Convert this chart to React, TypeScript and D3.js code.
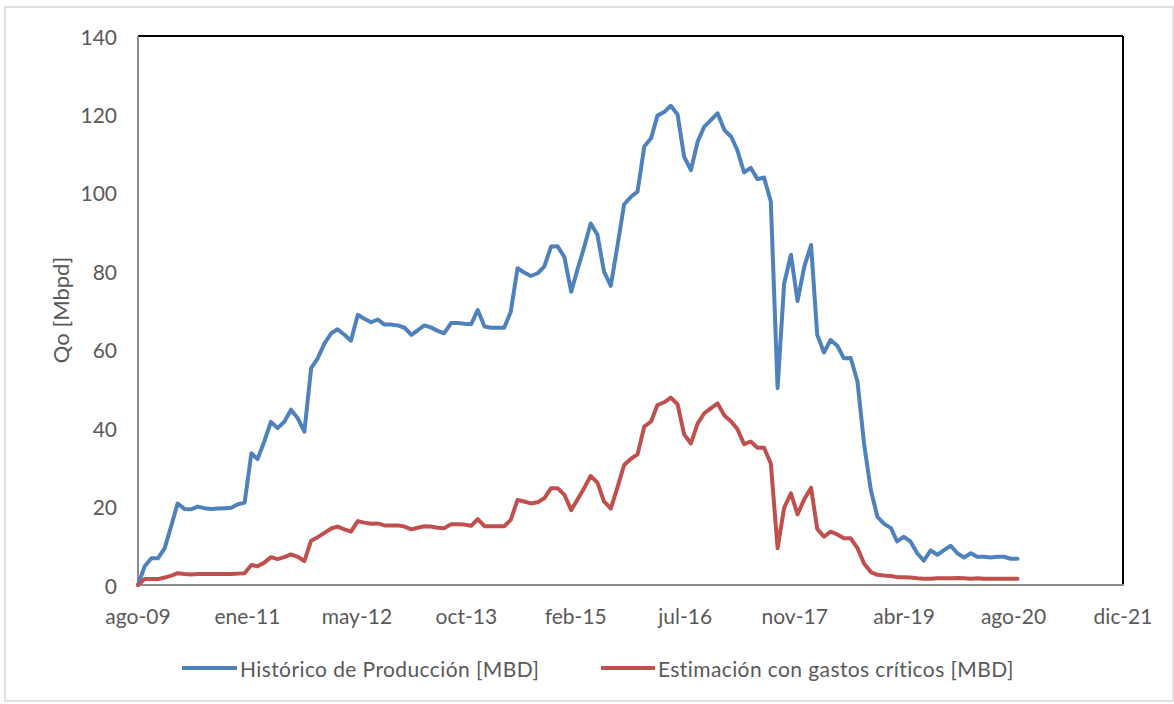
import React from "react";
import * as d3 from "d3";

// monthly values, end of month from ago-09 to ago-20
const historico = [
  0, 4.7, 6.8, 6.8, 9.4, 15.3, 20.8, 19.4, 19.3, 20.0, 19.6, 19.4, 19.5, 19.6,
  19.7, 20.6, 21.0, 33.6, 32.1, 36.6, 41.6, 40.0, 41.6, 44.7, 42.5, 39.1, 55.3,
  57.8, 61.6, 64.2, 65.2, 63.8, 62.3, 68.9, 67.9, 67.0, 67.7, 66.4, 66.4, 66.2,
  65.6, 63.8, 64.9, 66.2, 65.7, 64.8, 64.2, 66.8, 66.8, 66.6, 66.5, 70.1, 65.9,
  65.6, 65.6, 65.6, 69.7, 80.8, 79.7, 78.8, 79.5, 81.2, 86.3, 86.4, 83.6, 74.8,
  80.3, 86.1, 92.2, 89.3, 79.9, 76.3, 86.7, 97.1, 99.0, 100.3, 111.8, 113.9,
  119.7, 120.6, 122.2, 120.0, 109.2, 105.8, 113.1, 116.9, 118.6, 120.3, 116.0,
  114.3, 110.9, 105.2, 106.4, 103.5, 103.9, 97.8, 50.2, 76.9, 84.2, 72.4, 81.2,
  86.7, 63.8, 59.3, 62.5, 61.0, 57.8, 57.9, 51.9, 36.0, 24.2, 17.4, 15.6, 14.5,
  11.1, 12.3, 11.1, 8.1, 6.2, 8.8, 7.7, 8.9, 10.0, 8.1, 7.0, 8.1, 7.2, 7.2, 7.0,
  7.2, 7.2, 6.7, 6.7,
];

const estimacion = [
  0, 1.5, 1.5, 1.5, 1.9, 2.4, 3.0, 2.8, 2.7, 2.8, 2.8, 2.8, 2.8, 2.8, 2.8, 2.9,
  3.0, 5.1, 4.8, 5.7, 7.1, 6.6, 7.1, 7.8, 7.2, 6.1, 11.3, 12.2, 13.3, 14.4, 14.9,
  14.2, 13.6, 16.3, 15.9, 15.6, 15.7, 15.2, 15.2, 15.2, 14.9, 14.2, 14.6, 15.0,
  14.9, 14.6, 14.5, 15.5, 15.5, 15.4, 15.1, 16.8, 15.0, 15.0, 15.0, 15.0, 16.6,
  21.7, 21.3, 20.8, 21.1, 22.1, 24.7, 24.7, 23.0, 19.1, 21.7, 24.7, 27.8, 26.1,
  21.3, 19.5, 25.0, 30.6, 32.2, 33.3, 40.4, 41.7, 45.9, 46.6, 47.8, 46.1, 38.4,
  36.1, 41.2, 43.8, 45.1, 46.3, 43.2, 41.7, 39.8, 35.9, 36.6, 35.0, 35.0, 31.0,
  9.4, 19.7, 23.4, 18.0, 21.9, 24.8, 14.3, 12.3, 13.6, 12.9, 11.9, 11.9, 9.4,
  5.5, 3.3, 2.6, 2.4, 2.3, 2.0, 2.0, 1.9, 1.7, 1.6, 1.6, 1.7, 1.7, 1.7, 1.8, 1.7,
  1.6, 1.7, 1.6, 1.6, 1.6, 1.6, 1.6, 1.6,
];

const meses = ["ene", "feb", "mar", "abr", "may", "jun", "jul", "ago", "sep", "oct", "nov", "dic"];
const yTicks = [0, 20, 40, 60, 80, 100, 120, 140];
const seriesNames = ["Histórico de Producción [MBD]", "Estimación con gastos críticos [MBD]"];

const axisStart = new Date(2009, 7, 31);
const tickStepDays = 500;
const tickCount = 10;

const blue = "#4f81bd";
const red = "#c0504d";
const textColor = "#595959";
const font = "Lato, 'Open Sans', sans-serif";

const W = 1174;
const H = 704;
const m = { left: 138, right: 1123, top: 36, bottom: 585 };

const dates = historico.map((_, i) =>
  d3.timeDay.offset(d3.timeMonth.offset(new Date(2009, 8, 1), i), -1)
);
const tickDates = d3.range(tickCount).map((i) => d3.timeDay.offset(axisStart, i * tickStepDays));

const x = d3.scaleTime().domain([axisStart, tickDates[tickCount - 1]]).range([m.left, m.right]);
const y = d3.scaleLinear().domain([0, 140]).range([m.bottom, m.top]);

const fmt = (d: Date) => meses[d.getMonth()] + "-" + String(d.getFullYear()).slice(2);

const line = d3
  .line<number>()
  .x((_, i) => x(dates[i]))
  .y((d) => y(d));

export default function App() {
  return (
    <svg
      width={W}
      height={H}
      style={{ position: "absolute", left: 0, top: 0, background: "#fff" }}
      fontFamily={font}
    >
      <rect x={5} y={7} width={1168} height={694} fill="#fff" stroke="#d9d9d9" strokeWidth={1.5} />

      {/* plot frame */}
      <line x1={m.left} x2={m.right} y1={m.top} y2={m.top} stroke="#000" strokeWidth={2} />
      <line x1={m.right} x2={m.right} y1={m.top} y2={m.bottom} stroke="#000" strokeWidth={2} />
      <line x1={m.left} x2={m.left} y1={m.top} y2={m.bottom} stroke="#8c8c8c" strokeWidth={2} />
      <line x1={m.left} x2={m.right + 1} y1={m.bottom} y2={m.bottom} stroke="#8c8c8c" strokeWidth={2} />

      {yTicks.map((t) => (
        <text
          key={t}
          x={117}
          y={y(t)}
          textAnchor="end"
          dominantBaseline="central"
          fontSize={21}
          fill={textColor}
        >
          {t}
        </text>
      ))}

      {tickDates.map((d, i) => (
        <text key={i} x={x(d)} y={624} textAnchor="middle" fontSize={21} fill={textColor}>
          {fmt(d)}
        </text>
      ))}

      <text
        transform="translate(60,310) rotate(-90)"
        textAnchor="middle"
        dominantBaseline="central"
        fontSize={22}
        fill={textColor}
      >
        Qo [Mbpd]
      </text>

      <path
        d={line(historico) || ""}
        fill="none"
        stroke={blue}
        strokeWidth={4}
        strokeLinejoin="round"
        strokeLinecap="round"
      />
      <path
        d={line(estimacion) || ""}
        fill="none"
        stroke={red}
        strokeWidth={4}
        strokeLinejoin="round"
        strokeLinecap="round"
      />

      {/* legend */}
      <line x1={182} x2={237} y1={668} y2={668} stroke={blue} strokeWidth={4} />
      <text x={240} y={668} dominantBaseline="central" fontSize={21} letterSpacing={0.4} fill={textColor}>
        {seriesNames[0]}
      </text>
      <line x1={601} x2={655} y1={668} y2={668} stroke={red} strokeWidth={4} />
      <text x={658} y={668} dominantBaseline="central" fontSize={21} letterSpacing={0.4} fill={textColor}>
        {seriesNames[1]}
      </text>
    </svg>
  );
}
